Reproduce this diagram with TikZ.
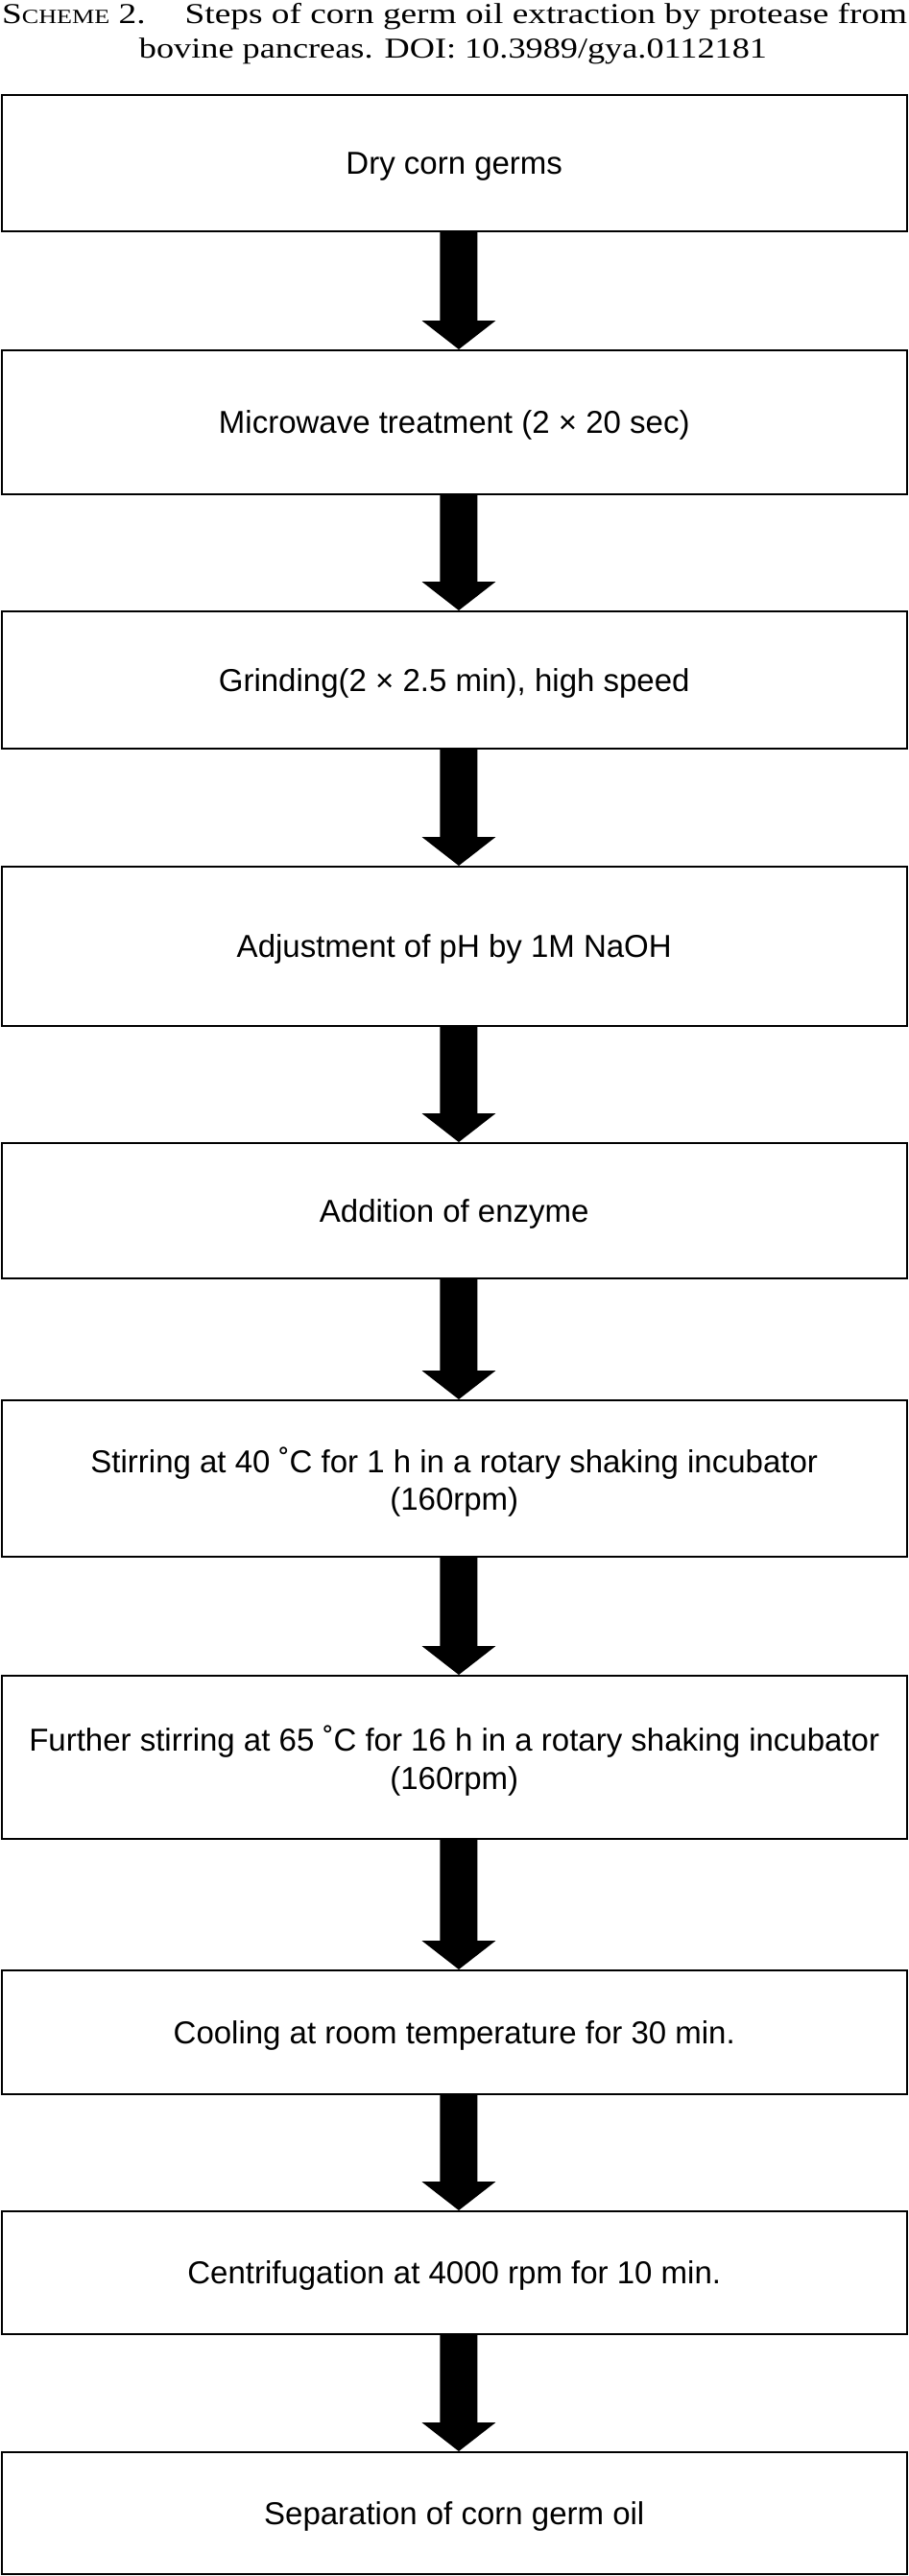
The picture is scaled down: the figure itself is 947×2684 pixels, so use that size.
\documentclass[tikz,border=0pt]{standalone}
\usepackage{fontspec}
\usepackage{graphicx}
\usetikzlibrary{calc}
\newfontfamily\boxfont{Liberation Sans}
\newfontfamily\capfont{Liberation Serif}
\newcommand{\twolines}[2]{\vbox{\baselineskip=39.5pt\halign{\hfil##\hfil\cr#1\cr#2\cr}}}
\newcommand{\flowarrow}[2]{%
  \fill[black] ($(#1.south)+(-14.8,0)$) -- ($(#1.south)+(24.2,0)$)
    -- ($(#2.north)+(24.2,-30)$) -- ($(#2.north)+(43.2,-30)$)
    -- ($(#2.north)+(4.7,0)$) -- ($(#2.north)+(-33.8,-30)$)
    -- ($(#2.north)+(-14.8,-30)$) -- cycle;}
\tikzset{
  stepbox/.style={draw=black, line width=2pt, fill=white, rectangle, inner sep=0pt,
    minimum width=943.5pt, font=\boxfont\fontsize{33pt}{39.5pt}\selectfont, text depth=0pt},
  oneline/.style={text height=23.6pt},
}
\begin{document}
\begin{tikzpicture}[x=1pt,y=-1pt]
\useasboundingbox (0,0) rectangle (947,2684);
% caption
\node[anchor=base west, inner sep=0pt] (t1) at (2,25)
  {\capfont\fontsize{30pt}{36pt}\selectfont\resizebox{943pt}{\height}{S{\fontsize{21pt}{21pt}\selectfont CHEME} 2.\hspace{33pt}Steps of corn germ oil extraction by protease from}};
\node[anchor=base, inner sep=0pt] (t2) at (472,61)
  {\capfont\fontsize{30pt}{36pt}\selectfont\resizebox{654pt}{\height}{bovine pancreas. DOI: 10.3989/gya.0112181}};
% boxes
\node[stepbox, oneline, minimum height=142pt] (b1) at (473.25,170) {Dry corn germs};
\node[stepbox, oneline, minimum height=150pt] (b2) at (473.25,440) {Microwave treatment (2 × 20 sec)};
\node[stepbox, oneline, minimum height=143pt] (b3) at (473.25,708.5) {Grinding(2 × 2.5 min), high speed};
\node[stepbox, oneline, minimum height=166pt] (b4) at (473.25,986) {Adjustment of pH by 1M NaOH};
\node[stepbox, oneline, minimum height=141pt] (b5) at (473.25,1261.5) {Addition of enzyme};
\node[stepbox, minimum height=163pt] (b6) at (473.25,1540.5)
  {\twolines{Stirring at 40 ˚C for 1 h in a rotary shaking incubator}{(160rpm)}};
\node[stepbox, minimum height=170pt] (b7) at (473.25,1831)
  {\twolines{Further stirring at 65 ˚C for 16 h in a rotary shaking incubator}{(160rpm)}};
\node[stepbox, oneline, minimum height=129pt] (b8) at (473.25,2117.5) {Cooling at room temperature for 30 min.};
\node[stepbox, oneline, minimum height=128pt] (b9) at (473.25,2368) {Centrifugation at 4000 rpm for 10 min.};
\node[stepbox, oneline, minimum height=127pt] (b10) at (473.25,2618.5) {Separation of corn germ oil};
% arrows
\flowarrow{b1}{b2}
\flowarrow{b2}{b3}
\flowarrow{b3}{b4}
\flowarrow{b4}{b5}
\flowarrow{b5}{b6}
\flowarrow{b6}{b7}
\flowarrow{b7}{b8}
\flowarrow{b8}{b9}
\flowarrow{b9}{b10}
\end{tikzpicture}
\end{document}
